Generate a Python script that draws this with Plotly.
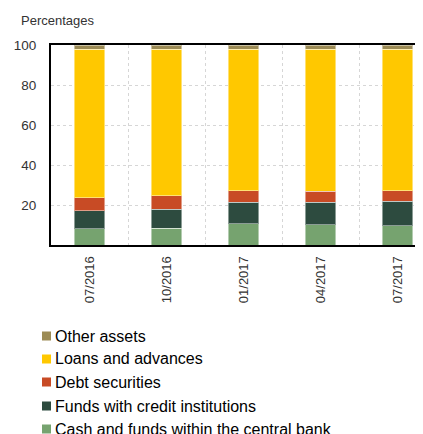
import plotly.graph_objects as go

categories = ["07/2016", "10/2016", "01/2017", "04/2017", "07/2017"]
cash = [8.2, 8.5, 10.7, 10.2, 9.7]
funds = [8.9, 9.4, 10.6, 11.1, 12.2]
debt = [6.5, 6.7, 5.8, 5.5, 5.2]
loans = [74.2, 73.4, 70.7, 71.2, 70.9]
other = [2.2, 2.0, 2.2, 2.0, 2.0]

series_names = ["Cash and funds within the central bank", "Funds with credit institutions",
                "Debt securities", "Loans and advances", "Other assets"]
series_values = [cash, funds, debt, loans, other]
series_colors = ["#76A36F", "#2D4B3F", "#C84B25", "#FFC800", "#9C8B55"]
y_ticks = [20, 40, 60, 80, 100]

OFF = 8  # page body margin
W, H = 423 - OFF, 434 - OFF
ML, MR, MT, MB = 51 - OFF, 0, 45 - OFF, 189 - OFF + OFF
MB = H - (245 - OFF)
PW = W - ML - MR
PH = H - MT - MB


def px_x(px):
    return (px - OFF - ML) / PW


def px_y(py):
    return (H - MB - (py - OFF)) / PH


fig = go.Figure()
for name, vals, col in zip(series_names, series_values, series_colors):
    fig.add_trace(go.Bar(
        x=categories, y=vals, name=name, showlegend=False,
        marker=dict(color=col, line=dict(color="rgba(255,255,255,0.45)", width=1)),
        width=0.4,
    ))

# custom legend (top: Other assets ... bottom: Cash)
legend_centers_px = [336, 359, 382, 406, 429]
for i, (name, col) in enumerate(zip(series_names[::-1], series_colors[::-1])):
    cy = legend_centers_px[i]
    fig.add_shape(type="rect", xref="paper", yref="paper",
                  x0=px_x(42), x1=px_x(51), y0=px_y(cy + 4.5), y1=px_y(cy - 4.5),
                  fillcolor=col, line=dict(width=0))
    fig.add_annotation(xref="paper", yref="paper", x=px_x(53), y=px_y(cy),
                       text=name, showarrow=False, xanchor="left", yanchor="middle",
                       font=dict(family="Liberation Sans, Arial", size=16, color="#000000"))

fig.add_annotation(xref="paper", yref="paper", x=px_x(19), y=px_y(21),
                   text="Percentages", showarrow=False, xanchor="left", yanchor="middle",
                   font=dict(family="Liberation Sans, Arial", size=13, color="#333333"))

fig.update_layout(
    barmode="stack",
    width=W, height=H,
    margin=dict(l=ML, r=MR, t=MT, b=MB),
    paper_bgcolor="white", plot_bgcolor="white",
    showlegend=False,
    font=dict(family="Liberation Sans, Arial", size=13, color="#333333"),
    xaxis=dict(
        type="category", range=[-0.5, 4.33], tickson="boundaries",
        showgrid=True, gridcolor="#d6d6d6", griddash="3px,3px", gridwidth=1,
        showline=True, linecolor="#000000", linewidth=2, mirror=True,
        ticks="", tickangle=-90, ticklabelstandoff=4,
        tickfont=dict(size=13, color="#333333"),
    ),
    yaxis=dict(
        range=[0, 100], tickvals=y_ticks,
        showgrid=True, gridcolor="#d6d6d6", griddash="3px,3px", gridwidth=1,
        showline=True, linecolor="#000000", linewidth=2,
        ticks="", ticklabelstandoff=10, zeroline=False,
        tickfont=dict(size=13.5, color="#333333"),
    ),
)

fig.write_html("out.html")
